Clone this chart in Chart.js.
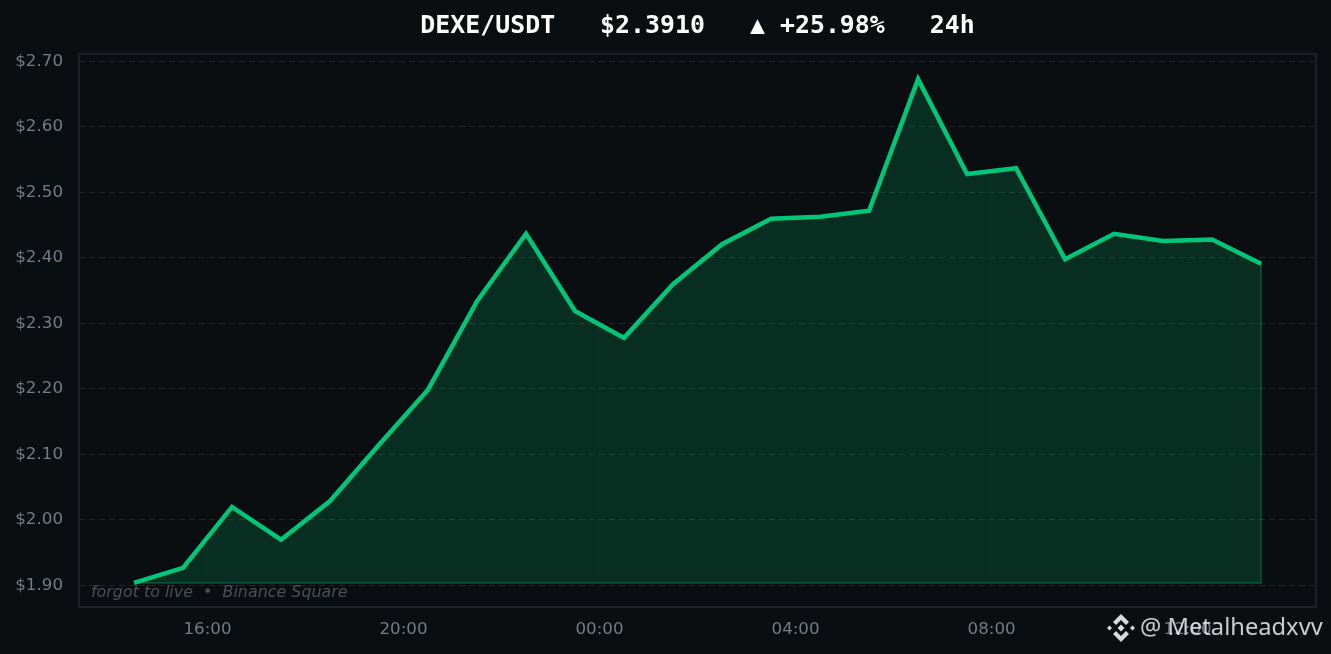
<!DOCTYPE html>
<html>
<head>
<meta charset="utf-8">
<script src="https://cdn.jsdelivr.net/npm/chart.js@4"></script>
<style>
	html, body { margin: 0; padding: 0; background: #0a0e11; overflow: hidden; }
	#wrap { position: relative; width: 1331px; height: 654px; }
	#mark { position: absolute; left: 1106px; top: 611px; height: 34px; display: flex; align-items: center; color: rgba(235,236,238,0.85); font: 23.7px "Noto Sans", sans-serif; white-space: pre; }
	#mark svg { margin-right: 4px; }
	#mark span { margin-top: -4px; }
</style>
</head>
<body>
<div id="wrap">
	<canvas id="chart" width="1331" height="654"></canvas>
	<div id="mark"><svg width="30" height="30" viewBox="0 0 30 30" fill="#d9dadc"><path d="M15 1l8 8-3 3-5-5-5 5-3-3z"/><path d="M15 29l8-8-3-3-5 5-5-5-3 3z"/><path d="M15 11.500l3.500 3.500-3.500 3.500-3.500-3.500z"/><path d="M3.500 12.500L6 15l-2.500 2.500L1 15z"/><path d="M26.500 12.500L29 15l-2.500 2.500L24 15z"/></svg><span>@ Metalheadxvv</span></div>
</div>
<script>
// hours since midnight of the first day, last point is 13:30 next day
const hours = [14.5, 15.5, 16.5, 17.5, 18.5, 19.5, 20.5, 21.5, 22.5, 23.5, 24.5, 25.5,
	26.5, 27.5, 28.5, 29.5, 30.5, 31.5, 32.5, 33.5, 34.5, 35.5, 36.5, 37.5]
const prices = [1.904, 1.927, 2.020, 1.970, 2.029, 2.115, 2.199, 2.334, 2.437, 2.319, 2.278, 2.360,
	2.421, 2.460, 2.463, 2.472, 2.673, 2.528, 2.537, 2.398, 2.437, 2.426, 2.428, 2.391]
const xTicks = [16, 20, 24, 28, 32, 36]
const xTickLabels = ['16:00', '20:00', '00:00', '04:00', '08:00', '12:00']
const yTicks = [1.9, 2.0, 2.1, 2.2, 2.3, 2.4, 2.5, 2.6, 2.7]
const titleText = 'DEXE/USDT   $2.3910   \u25B2 +25.98%   24h'
const captionText = 'forgot to live  \u2022  Binance Square'

const baseline = Math.min(...prices)
const lastHour = hours[hours.length - 1]
const lastPrice = prices[prices.length - 1]
const points = hours.map((h, i) => ({ x: h, y: prices[i] }))

// frame round the plot and the small caption
const framePlugin = {
	id: 'frame',
	beforeDatasetsDraw(chart) {
		const { ctx, chartArea: a } = chart
		ctx.save()
		ctx.strokeStyle = '#1d2127'
		ctx.lineWidth = 2
		ctx.strokeRect(a.left, a.top, a.right - a.left, a.bottom - a.top)
		ctx.restore()
	},
	afterDraw(chart) {
		const { ctx, chartArea: a } = chart
		ctx.save()
		ctx.fillStyle = '#4a4f58'
		ctx.font = 'italic 15.9px "DejaVu Sans"'
		ctx.textBaseline = 'alphabetic'
		ctx.fillText(captionText, a.left + 12, 597)
		ctx.restore()
	},
}

new Chart(document.getElementById('chart'), {
	type: 'line',
	plugins: [framePlugin],
	data: {
		datasets: [
			{
				data: [{ x: hours[0], y: baseline }, { x: lastHour, y: baseline }, { x: lastHour, y: lastPrice }],
				borderColor: 'rgba(0,192,118,0.35)',
				borderWidth: 1.5,
				pointRadius: 0,
				fill: false,
				order: 2,
			},
			{
				data: points,
				borderColor: '#00c67a',
				borderWidth: 4.5,
				borderJoinStyle: 'miter',
				borderCapStyle: 'butt',
				backgroundColor: 'rgba(0,192,118,0.18)',
				fill: { value: baseline },
				tension: 0,
				pointRadius: 0,
				order: 1,
			},
		],
	},
	options: {
		responsive: false,
		animation: false,
		devicePixelRatio: 1,
		layout: { padding: { top: 0, left: 0, right: 15, bottom: 0 } },
		plugins: {
			legend: { display: false },
			tooltip: { enabled: false },
			title: {
				display: true,
				fullSize: false,
				text: titleText,
				color: '#ffffff',
				font: { family: '"DejaVu Sans Mono"', size: 24.9, weight: 'bold' },
				padding: { top: 12, bottom: 12 },
			},
		},
		scales: {
			x: {
				type: 'linear',
				min: 13.378,
				max: 38.62,
				afterBuildTicks(scale) {
					scale.ticks = xTicks.map((v) => ({ value: v }))
				},
				afterFit(scale) {
					scale.height = 47
				},
				ticks: {
					autoSkip: false,
					maxRotation: 0,
					padding: 13,
					color: '#757b85',
					font: { family: '"DejaVu Sans"', size: 16.7 },
					callback: (v) => xTickLabels[xTicks.indexOf(v)],
				},
				grid: { color: '#14181d', lineWidth: 1, drawTicks: false },
				border: { display: false, dash: [1, 3] },
			},
			y: {
				min: 1.8672,
				max: 2.7115,
				afterBuildTicks(scale) {
					scale.ticks = yTicks.map((v) => ({ value: v }))
				},
				afterFit(scale) {
					scale.width = 79
				},
				ticks: {
					autoSkip: false,
					padding: 16,
					color: '#757b85',
					font: { family: '"DejaVu Sans"', size: 16.7 },
					callback: (v) => '$' + v.toFixed(2),
				},
				grid: { color: '#22262b', lineWidth: 1, drawTicks: false },
				border: { display: false, dash: [6, 4] },
			},
		},
	},
})
</script>
</body>
</html>
